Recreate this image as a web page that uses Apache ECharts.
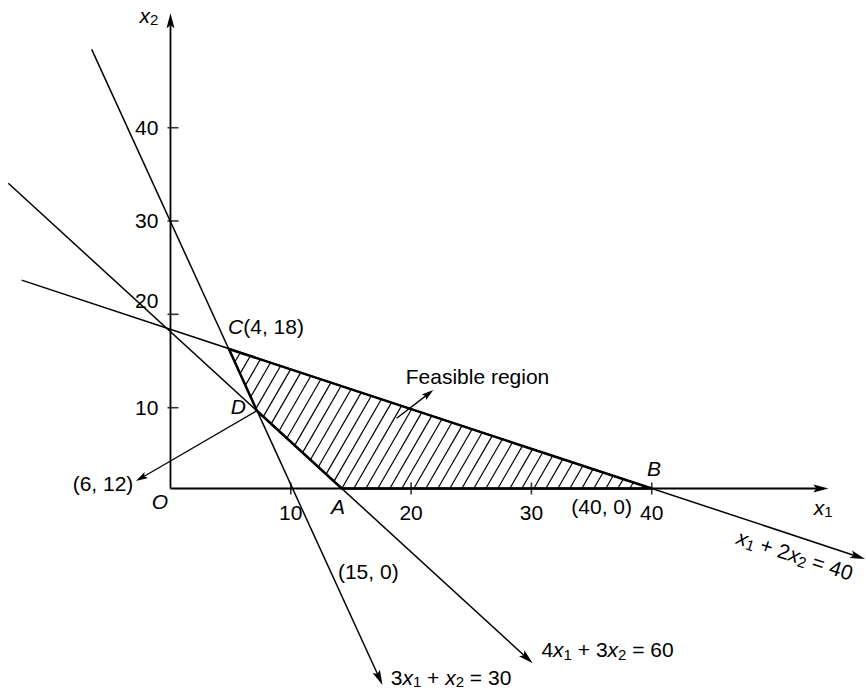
<!DOCTYPE html>
<html>
<head>
<meta charset="utf-8">
<title>Feasible region</title>
<script src="https://cdn.jsdelivr.net/npm/echarts@6/dist/echarts.min.js"></script>
<style>
  html, body { margin: 0; padding: 0; background: #fff; }
  #chart-lp { width: 866px; height: 692px; }
</style>
</head>
<body>
<div id="chart-lp"></div>
<script>
(function() {
  var ink = '#000';
  var font = '"Liberation Sans", Arial, Helvetica, sans-serif';
  var fs = 21;

  // visible window, in the figure's own units (the drawing is not to scale)
  var X_MIN = -14.17, X_MAX = 57.81;
  var Y_MIN = -22.56, Y_MAX = 54.16;

  var xTickValues = [10, 20, 30, 40];
  var xTickLabels = ['10', '20', '30', '40'];
  var yTickValues = [8.96, 19.31, 29.66, 40];
  var yLabelValues = [8.96, 20.79, 29.66, 40];
  var yTickLabels = ['10', '20', '30', '40'];

  // constraint lines: [start, arrow tip]
  var line3x1 = [[-6.55, 48.69], [17.62, -21.78]];   // 3x1 + x2 = 30
  var line4x1 = [[-13.48, 33.84], [30.11, -19.38]];  // 4x1 + 3x2 = 60
  var line1x1 = [[-12.37, 23.10], [57.73, -7.81]];   // x1 + 2x2 = 40

  var axisX1 = [[0, 0], [54.68, 0]];
  var axisX2 = [[0, 0], [0, 52.68]];

  var pointerD = [[7.18, 8.62], [-2.87, 0.83]];
  var pointerRegion = [[18.80, 7.78], [21.85, 10.92]];

  // feasible region: C, B, A, D
  var region = [[4.86, 15.47], [40, 0], [14.24, 0], [7.18, 8.62]];

  var noteTexts = [
    '{i|x}{s|2}',
    '{i|x}{s|1}',
    '{i|O}',
    '{i|C}{n|(4, 18)}',
    '{i|D}',
    '{i|A}',
    '{i|B}',
    '{n|(40, 0)}',
    '{n|(6, 12)}',
    '{n|(15, 0)}',
    '{n|Feasible region}',
    '{i|x}{s|1}{n| + 2}{i|x}{s|2}{n| = 40}',
    '{n|4}{i|x}{s|1}{n| + 3}{i|x}{s|2}{n| = 60}',
    '{n|3}{i|x}{s|1}{n| + }{i|x}{s|2}{n| = 30}'
  ];
  var notePos = [
    [-1.79, 52.49], [54.24, -2.05], [-0.87, -1.44], [7.94, 17.96],
    [5.64, 9.07], [13.92, -1.94], [40.19, 2.24], [35.84, -2.0],
    [-5.61, 0.61], [16.44, -9.22], [25.52, 12.39], [51.91, -7.37],
    [36.33, -17.90], [23.32, -20.95]
  ];
  var noteRotate = [0, 0, 0, 0, 0, 0, 0, 0, 0, 0, 0, -18, 0, 0];

  var HATCH_GAP = 12;
  var HATCH_K = Math.tan(Math.PI / 6); // 60 degree hatching

  // where the axes cross the plot, in pixels from the left and bottom edges
  var ORIGIN_LEFT = 866 * (0 - X_MIN) / (X_MAX - X_MIN);
  var ORIGIN_BOTTOM = 692 * (0 - Y_MIN) / (Y_MAX - Y_MIN);

  var richStyles = {
    n: { fontSize: fs, fontFamily: font, fill: ink, lineHeight: 24 },
    i: { fontStyle: 'italic', fontSize: fs, fontFamily: font, fill: ink, lineHeight: 24 },
    s: { fontSize: 15, fontFamily: font, fill: ink, lineHeight: 12, verticalAlign: 'bottom' }
  };

  function seg(s) { return [s[0][0], s[0][1], s[1][0], s[1][1]]; }

  function arrowRenderer(lineWidth, headLen, headWidth) {
    return function(params, api) {
      var p1 = api.coord([api.value(0), api.value(1)]);
      var p2 = api.coord([api.value(2), api.value(3)]);
      var dx = p2[0] - p1[0], dy = p2[1] - p1[1];
      var len = Math.sqrt(dx * dx + dy * dy);
      var ux = dx / len, uy = dy / len;
      var bx = p2[0] - ux * headLen, by = p2[1] - uy * headLen;
      var nx = -uy * headWidth / 2, ny = ux * headWidth / 2;
      var notch = [p2[0] - ux * headLen * 0.8, p2[1] - uy * headLen * 0.8];
      return {
        type: 'group',
        children: [
          { type: 'line', shape: { x1: p1[0], y1: p1[1], x2: notch[0], y2: notch[1] },
            style: { stroke: ink, lineWidth: lineWidth } },
          { type: 'polygon', shape: { points: [p2, [bx + nx, by + ny], notch, [bx - nx, by - ny]] },
            style: { fill: ink } }
        ]
      };
    };
  }

  function renderRegion(params, api) {
    var pts = region.map(function(p) { return api.coord(p); });
    var cs = pts.map(function(p) { return p[0] + HATCH_K * p[1]; });
    var cMin = Math.min.apply(null, cs), cMax = Math.max.apply(null, cs);
    var c0 = cs[2];
    var children = [];
    var c = c0 + Math.ceil((cMin - c0) / HATCH_GAP) * HATCH_GAP;
    for (; c <= cMax; c += HATCH_GAP) {
      var hits = [];
      for (var i = 0; i < pts.length; i++) {
        var a = pts[i], b = pts[(i + 1) % pts.length];
        var fa = a[0] + HATCH_K * a[1] - c, fb = b[0] + HATCH_K * b[1] - c;
        if (fa === fb) continue;
        if ((fa <= 0 && fb >= 0) || (fa >= 0 && fb <= 0)) {
          var t = fa / (fa - fb);
          hits.push([a[0] + t * (b[0] - a[0]), a[1] + t * (b[1] - a[1])]);
        }
      }
      if (hits.length < 2) continue;
      hits.sort(function(p, q) { return p[1] - q[1]; });
      var top = hits[0], bot = hits[hits.length - 1];
      children.push({ type: 'line', shape: { x1: bot[0], y1: bot[1], x2: top[0], y2: top[1] },
        style: { stroke: ink, lineWidth: 1.2 } });
    }
    children.push({ type: 'polygon', shape: { points: pts },
      style: { fill: 'none', stroke: ink, lineWidth: 2.5, lineJoin: 'round' } });
    return { type: 'group', children: children };
  }

  function renderNote(params, api) {
    var p = api.coord([api.value(0), api.value(1)]);
    var i = params.dataIndex;
    return {
      type: 'text',
      x: p[0], y: p[1],
      rotation: noteRotate[i] * Math.PI / 180,
      style: {
        text: noteTexts[i], rich: richStyles,
        fill: ink, fontSize: fs, fontFamily: font,
        align: 'center', verticalAlign: 'middle'
      }
    };
  }

  function nearestLabel(v, values, labels) {
    var best = 0;
    for (var i = 1; i < values.length; i++) {
      if (Math.abs(values[i] - v) < Math.abs(values[best] - v)) best = i;
    }
    return labels[best];
  }

  var chart = echarts.init(document.getElementById('chart-lp'), null, { renderer: 'svg' });
  chart.setOption({
    animation: false,
    grid: { left: 0, right: 0, top: 0, bottom: 0, containLabel: false, outerBoundsMode: 'none' },
    xAxis: {
      type: 'value', min: X_MIN, max: X_MAX,
      position: 'bottom', offset: -ORIGIN_BOTTOM,
      axisLine: { show: false, onZero: false },
      axisTick: { show: false },
      splitLine: { show: false },
      axisLabel: {
        customValues: xTickValues, margin: 13,
        color: ink, fontSize: fs, fontFamily: font,
        formatter: function(v) { return nearestLabel(v, xTickValues, xTickLabels); }
      }
    },
    yAxis: {
      type: 'value', min: Y_MIN, max: Y_MAX,
      position: 'left', offset: -ORIGIN_LEFT,
      axisLine: { show: false, onZero: false },
      axisTick: { show: false },
      splitLine: { show: false },
      axisLabel: {
        customValues: yLabelValues, margin: 12,
        color: ink, fontSize: fs, fontFamily: font,
        formatter: function(v) { return nearestLabel(v, yLabelValues, yTickLabels); }
      }
    },
    series: [
      {
        type: 'custom', silent: true,
        renderItem: renderRegion,
        data: [region[0]],
        z: 1
      },
      {
        type: 'custom', silent: true,
        renderItem: arrowRenderer(1.5, 15, 8),
        encode: { x: [0, 2], y: [1, 3] },
        data: [seg(line3x1), seg(line4x1), seg(line1x1)],
        z: 2
      },
      {
        type: 'custom', silent: true,
        renderItem: arrowRenderer(1.8, 15, 8),
        encode: { x: [0, 2], y: [1, 3] },
        data: [seg(axisX1), seg(axisX2)],
        z: 3
      },
      {
        type: 'custom', silent: true,
        renderItem: arrowRenderer(1.3, 12, 7),
        encode: { x: [0, 2], y: [1, 3] },
        data: [seg(pointerD), seg(pointerRegion)],
        z: 3
      },
      {
        type: 'scatter', silent: true,
        symbol: 'rect', symbolSize: [1.6, 12],
        itemStyle: { color: ink },
        data: xTickValues.map(function(v) { return [v, 0]; }),
        z: 4
      },
      {
        type: 'scatter', silent: true,
        symbol: 'rect', symbolSize: [11, 1.6], symbolOffset: [2.5, 0],
        itemStyle: { color: ink },
        data: yTickValues.map(function(v) { return [0, v]; }),
        z: 4
      },
      {
        type: 'custom', silent: true,
        renderItem: renderNote,
        encode: { x: 0, y: 1 },
        data: notePos,
        z: 5
      }
    ]
  });
  window.addEventListener('resize', function() { chart.resize(); });
})();
</script>
</body>
</html>
